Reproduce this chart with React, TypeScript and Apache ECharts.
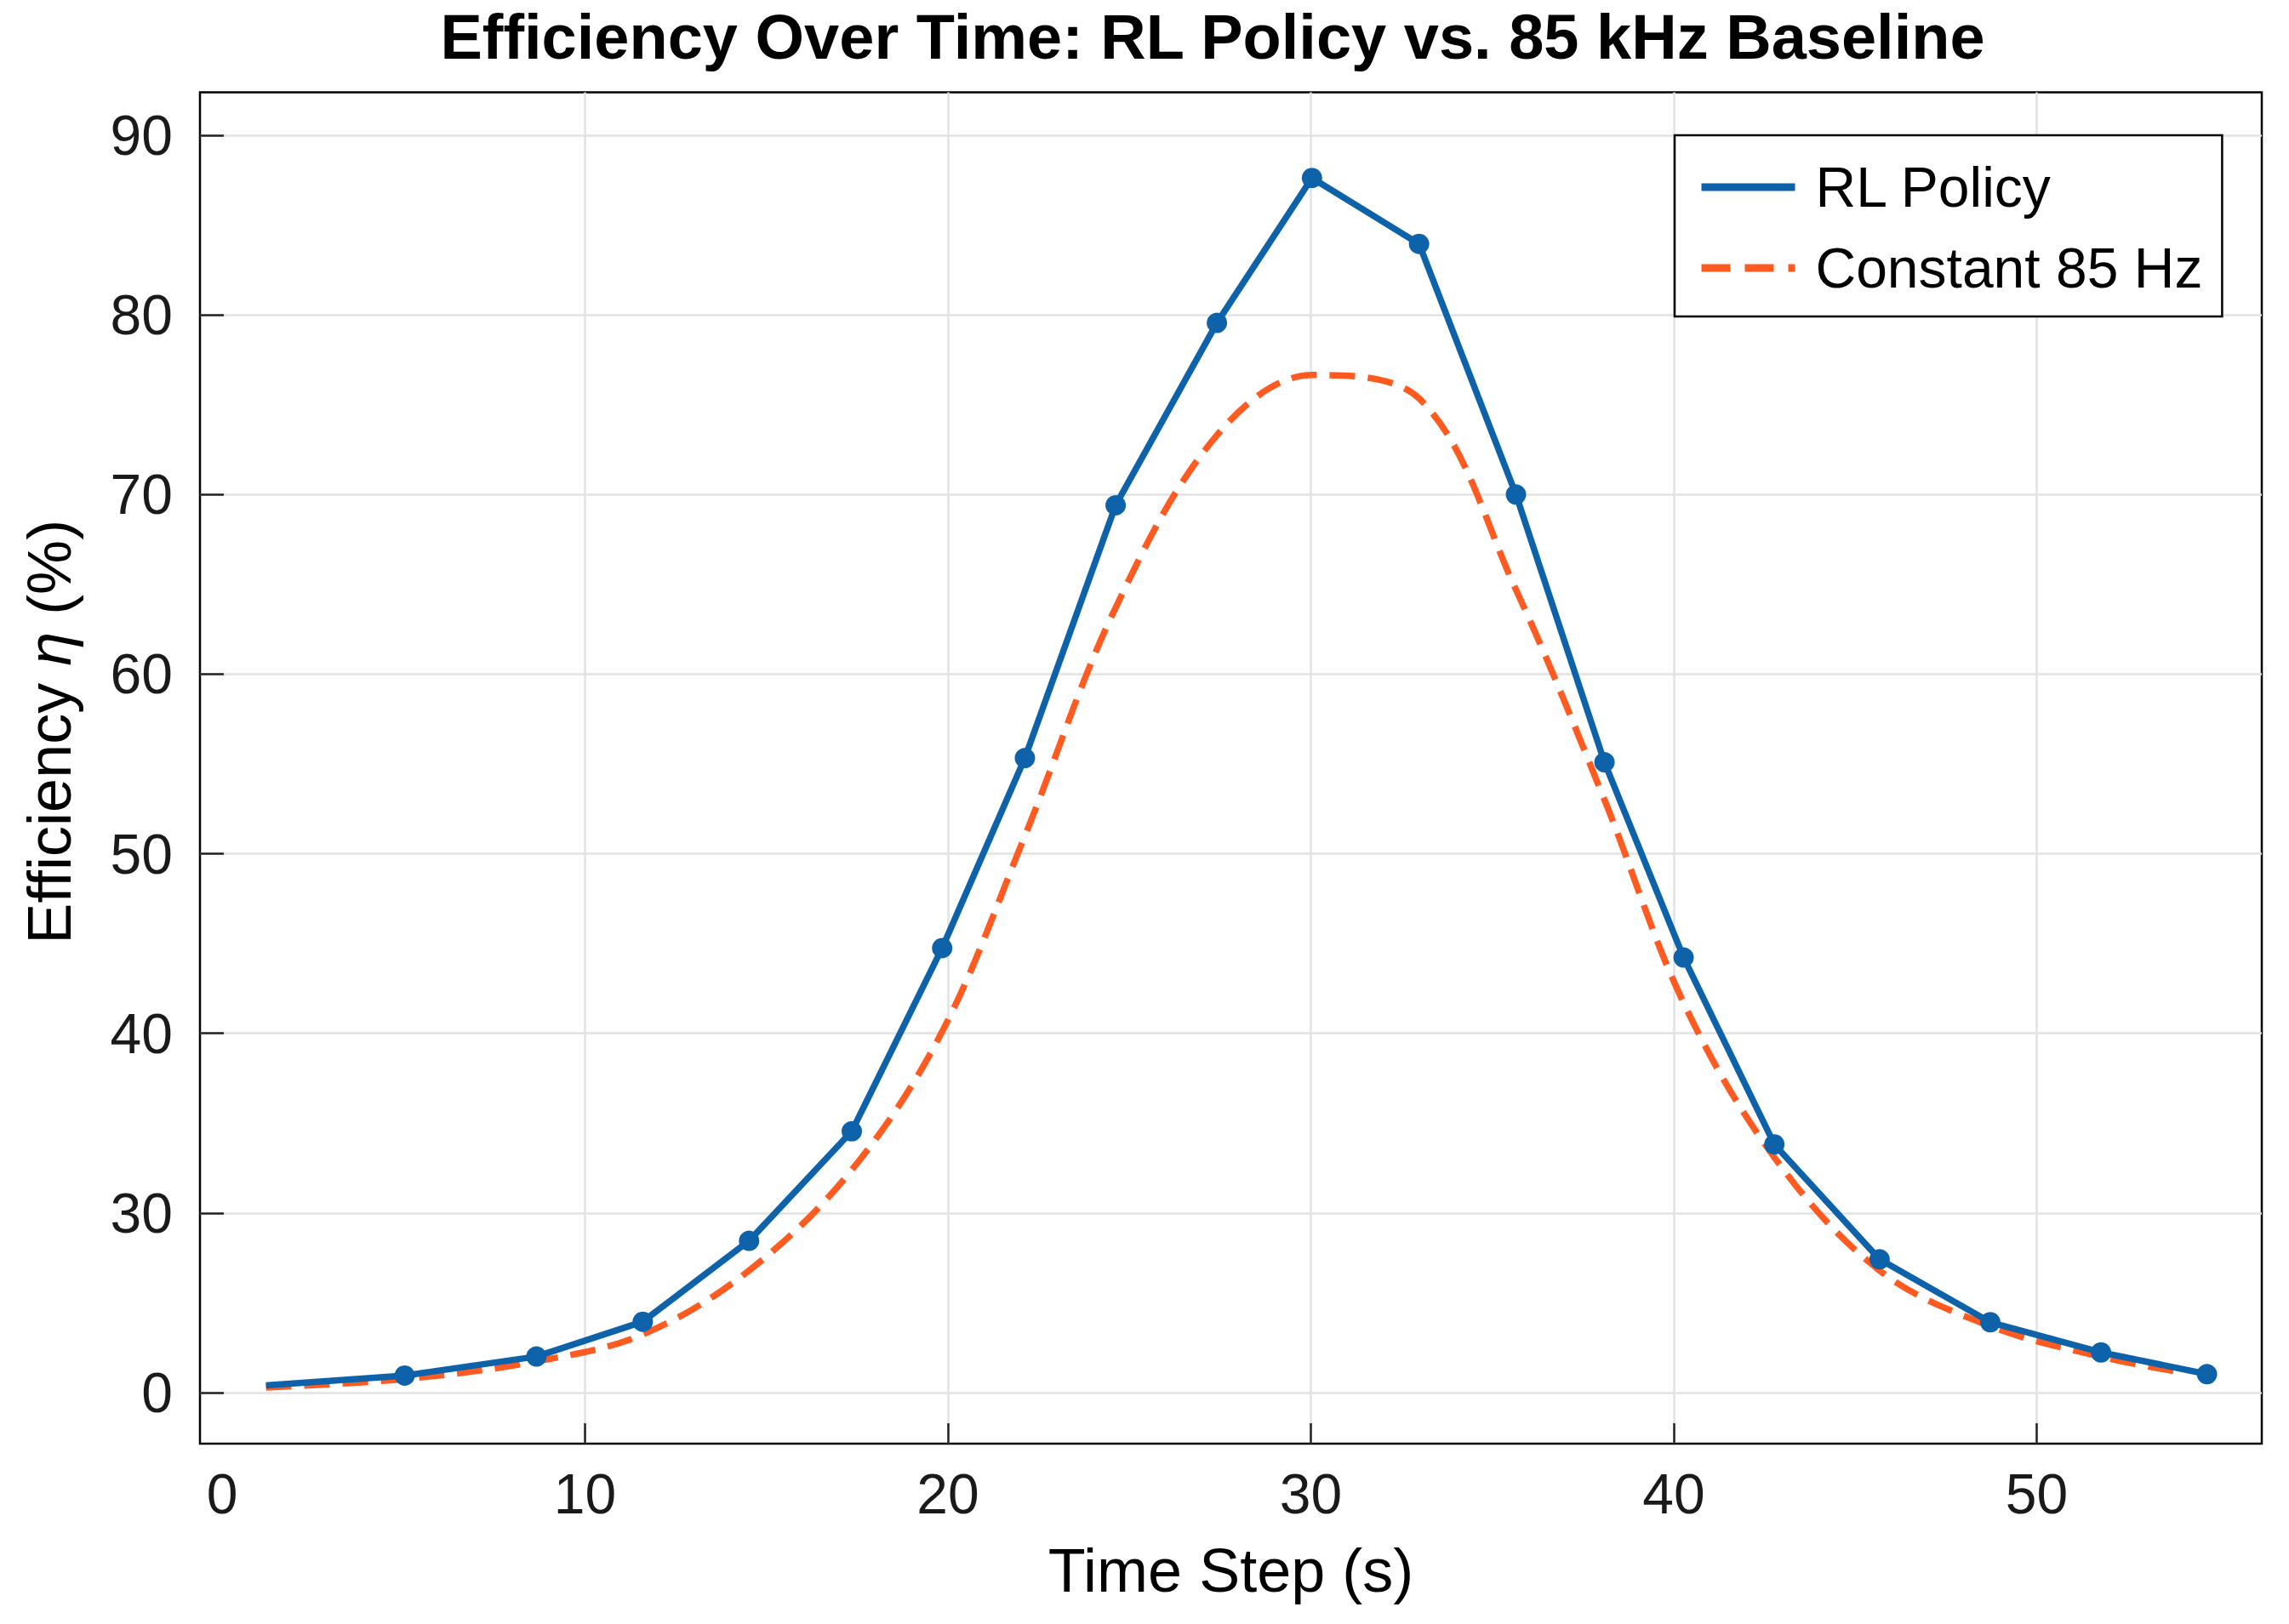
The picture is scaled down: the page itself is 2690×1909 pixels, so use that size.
import React, { useEffect, useRef } from "react";
import * as echarts from "echarts";

// Values are read on the plotted scale of the y axis, whose lowest labelled
// gridline reads "0" but sits one 10-unit step below the "30" gridline.
const timeSteps = [1.21, 5.03, 8.66, 11.59, 14.52, 17.35, 19.84, 22.12, 24.62, 27.41, 30.03, 32.98, 35.65, 38.09, 40.27, 42.77, 45.67, 48.72, 51.77, 54.69];
const rlPolicy = [20.4, 20.95, 22.01, 23.95, 28.45, 34.55, 44.75, 55.33, 69.4, 79.55, 87.62, 83.95, 70.0, 55.09, 44.22, 33.82, 27.42, 23.92, 22.24, 21.03];
const baselineTimes = [1.21, 5.03, 8.66, 11.59, 14.52, 17.35, 19.84, 22.12, 24.62, 27.41, 30.03, 32.98, 35.65, 38.09, 40.27, 42.77, 45.67, 48.72, 51.77, 54.06];
const constant85 = [20.29, 20.76, 21.74, 23.24, 26.8, 32.4, 40.1, 51.0, 63.7, 73.3, 76.65, 75.35, 64.7, 53.0, 41.7, 33.1, 26.8, 23.7, 22.0, 21.1];

const yTickValues = [20, 30, 40, 50, 60, 70, 80, 90];
const yTickLabels = ["0", "30", "40", "50", "60", "70", "80", "90"];
const xTickValues = [10, 20, 30, 40, 50];
const xLabelValues = [0, 10, 20, 30, 40, 50];

const seriesNames = ["RL Policy", "Constant 85 Hz"];
const chartTitle = "Efficiency Over Time: RL Policy vs. 85 kHz Baseline";
const xTitle = "Time Step (s)";

const FONT = "Liberation Sans, Arial, Helvetica, sans-serif";
const BLUE = "#0d62a9";
const ORANGE = "#ff5a1f";

export default function App() {
  const ref = useRef<HTMLDivElement>(null);

  useEffect(() => {
    if (!ref.current) return;
    const chart = echarts.init(ref.current, null, { renderer: "svg" });

    const rlData = timeSteps.map((t, i) =>
      i === 0 ? { value: [t, rlPolicy[i]], symbol: "none" } : [t, rlPolicy[i]]
    );
    const baseData = baselineTimes.map((t, i) => [t, constant85[i]]);

    chart.setOption({
      animation: false,
      backgroundColor: "#ffffff",
      title: {
        text: chartTitle,
        left: 1425,
        top: 6,
        textAlign: "center",
        padding: 0,
        textStyle: { fontSize: 74, fontWeight: "bold", fontFamily: FONT, color: "#000" },
      },
      legend: {
        orient: "vertical",
        left: 1968,
        top: 159,
        selectedMode: false,
        backgroundColor: "#fff",
        borderColor: "#000",
        borderWidth: 2.5,
        borderRadius: 0,
        padding: [26, 23, 22, 27],
        itemGap: 25,
        itemWidth: 110,
        itemHeight: 20,
        itemStyle: { opacity: 0 },
        data: [
          { name: seriesNames[0], lineStyle: { color: BLUE, width: 9, type: "solid" } },
          { name: seriesNames[1], lineStyle: { color: ORANGE, width: 9, type: [34, 17] } },
        ],
        textStyle: {
          fontSize: 66,
          fontFamily: FONT,
          color: "#000",
          lineHeight: 70,
          padding: [0, 0, 0, 19],
        },
      },
      grid: {
        left: 235,
        right: 32,
        top: 108.5,
        bottom: 212,
        show: true,
        borderColor: "#000",
        borderWidth: 2.5,
        backgroundColor: "#fff",
        outerBoundsMode: "none",
      },
      xAxis: {
        type: "value",
        min: -0.61,
        max: 56.2,
        name: xTitle,
        nameLocation: "middle",
        nameGap: 113,
        nameTextStyle: { fontSize: 72, fontFamily: FONT, color: "#000" },
        axisLine: { show: false, onZero: false },
        axisTick: {
          show: true,
          inside: true,
          length: 24,
          customValues: xTickValues,
          lineStyle: { color: "#222", width: 2.5 },
        },
        axisLabel: {
          customValues: xLabelValues,
          fontSize: 66,
          fontFamily: FONT,
          color: "#1a1a1a",
          margin: 26,
        },
        splitLine: { show: true, lineStyle: { color: "#e2e2e2", width: 2.5 } },
      },
      yAxis: {
        type: "value",
        min: 17.16,
        max: 92.39,
        name: "Efficiency {i|η} (%)",
        nameLocation: "middle",
        nameGap: 141,
        nameTextStyle: {
          fontSize: 72,
          fontFamily: FONT,
          color: "#000",
          padding: [0, 0, 0, 85],
          rich: { i: { fontSize: 72, fontFamily: FONT, fontStyle: "italic", color: "#000" } },
        },
        axisLine: { show: false, onZero: false },
        axisTick: {
          show: true,
          inside: true,
          length: 28,
          customValues: yTickValues,
          lineStyle: { color: "#222", width: 2.5 },
        },
        axisLabel: {
          customValues: yTickValues,
          formatter: (v: number) => {
            const i = yTickValues.indexOf(Math.round(v));
            return i >= 0 ? yTickLabels[i] : "";
          },
          fontSize: 66,
          fontFamily: FONT,
          color: "#1a1a1a",
          margin: 32,
        },
        splitLine: { show: true, lineStyle: { color: "#e2e2e2", width: 2.5 } },
      },
      series: [
        {
          name: seriesNames[0],
          type: "line",
          z: 3,
          data: rlData,
          symbol: "circle",
          symbolSize: 24,
          lineStyle: { color: BLUE, width: 7.5 },
          itemStyle: { color: BLUE },
          emphasis: { disabled: true },
        },
        {
          name: seriesNames[1],
          type: "line",
          z: 2,
          data: baseData,
          smooth: 0.35,
          symbol: "none",
          showSymbol: false,
          lineStyle: { color: ORANGE, width: 7.5, type: [30, 15] },
          itemStyle: { color: ORANGE },
          emphasis: { disabled: true },
        },
      ],
    });

    return () => chart.dispose();
  }, []);

  return (
    <div
      ref={ref}
      style={{ position: "fixed", left: 0, top: 0, width: 2690, height: 1909, background: "#fff" }}
    />
  );
}
